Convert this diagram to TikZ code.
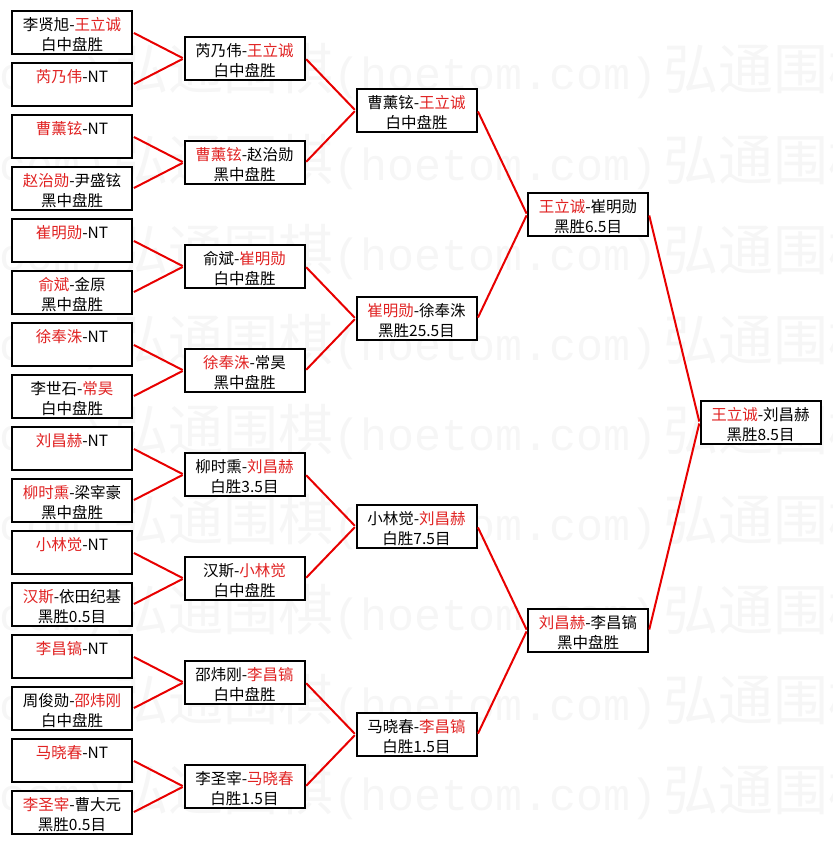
\documentclass[tikz,border=0pt]{standalone}
\usepackage{fontspec}
\setmainfont{Noto Sans CJK SC}
\newfontfamily\wmfont{Liberation Mono}

\definecolor{wintext}{RGB}{225,35,35}
\definecolor{linkred}{RGB}{232,0,0}
\definecolor{wmgray}{RGB}{246,246,246}

\newcommand{\win}[1]{\textcolor{wintext}{#1}}
\newcommand{\bout}[2]{\rule{0pt}{18.4pt}#1\\#2\rule[-2pt]{0pt}{2pt}}
\newcommand{\wmtext}{弘通围棋{\wmfont\fontsize{45}{45}\selectfont (hoetom.com)}\hspace{6pt}}

\tikzset{
  game/.style={draw=black, line width=2pt, fill=white, minimum width=120pt,
    minimum height=43pt, inner sep=0pt, align=center,
    font=\fontsize{15.5}{20}\selectfont},
  link/.style={draw=linkred, line width=2pt, shorten <=1pt, shorten >=1pt},
  wmark/.style={text=wmgray, anchor=base west, inner sep=0pt,
    font=\fontsize{55}{55}\selectfont}
}

\begin{document}
\begin{tikzpicture}[x=1pt, y=-1pt]

	\useasboundingbox (0,0) rectangle (832,845);

	% Watermark
	\begin{scope}
	\clip (0,0) rectangle (832,845);
	\node [wmark] (wm1) at (-437,90) {\wmtext\wmtext\wmtext};
	\node [wmark] (wm2) at (-437,180) {\wmtext\wmtext\wmtext};
	\node [wmark] (wm3) at (-437,270) {\wmtext\wmtext\wmtext};
	\node [wmark] (wm4) at (-437,360) {\wmtext\wmtext\wmtext};
	\node [wmark] (wm5) at (-437,450) {\wmtext\wmtext\wmtext};
	\node [wmark] (wm6) at (-437,540) {\wmtext\wmtext\wmtext};
	\node [wmark] (wm7) at (-437,630) {\wmtext\wmtext\wmtext};
	\node [wmark] (wm8) at (-437,720) {\wmtext\wmtext\wmtext};
	\node [wmark] (wm9) at (-437,810) {\wmtext\wmtext\wmtext};
	\end{scope}

	% First round
	\node [game] (a1) at (72,32.5) {\bout{李贤旭-\win{王立诚}}{白中盘胜}};
	\node [game] (a2) at (72,84.5) {\bout{\win{芮乃伟}-NT}{}};
	\node [game] (a3) at (72,136.5) {\bout{\win{曹薰铉}-NT}{}};
	\node [game] (a4) at (72,188.5) {\bout{\win{赵治勋}-尹盛铉}{黑中盘胜}};
	\node [game] (a5) at (72,240.5) {\bout{\win{崔明勋}-NT}{}};
	\node [game] (a6) at (72,292.5) {\bout{\win{俞斌}-金原}{黑中盘胜}};
	\node [game] (a7) at (72,344.5) {\bout{\win{徐奉洙}-NT}{}};
	\node [game] (a8) at (72,396.5) {\bout{李世石-\win{常昊}}{白中盘胜}};
	\node [game] (a9) at (72,448.5) {\bout{\win{刘昌赫}-NT}{}};
	\node [game] (a10) at (72,500.5) {\bout{\win{柳时熏}-梁宰豪}{黑中盘胜}};
	\node [game] (a11) at (72,552.5) {\bout{\win{小林觉}-NT}{}};
	\node [game] (a12) at (72,604.5) {\bout{\win{汉斯}-依田纪基}{黑胜0.5目}};
	\node [game] (a13) at (72,656.5) {\bout{\win{李昌镐}-NT}{}};
	\node [game] (a14) at (72,708.5) {\bout{周俊勋-\win{邵炜刚}}{白中盘胜}};
	\node [game] (a15) at (72,760.5) {\bout{\win{马晓春}-NT}{}};
	\node [game] (a16) at (72,812.5) {\bout{\win{李圣宰}-曹大元}{黑胜0.5目}};

	% Second round
	\node [game] (b1) at (244.5,58.5) {\bout{芮乃伟-\win{王立诚}}{白中盘胜}};
	\node [game] (b2) at (244.5,162.5) {\bout{\win{曹薰铉}-赵治勋}{黑中盘胜}};
	\node [game] (b3) at (244.5,266.5) {\bout{俞斌-\win{崔明勋}}{白中盘胜}};
	\node [game] (b4) at (244.5,370.5) {\bout{\win{徐奉洙}-常昊}{黑中盘胜}};
	\node [game] (b5) at (244.5,474.5) {\bout{柳时熏-\win{刘昌赫}}{白胜3.5目}};
	\node [game] (b6) at (244.5,578.5) {\bout{汉斯-\win{小林觉}}{白中盘胜}};
	\node [game] (b7) at (244.5,682.5) {\bout{邵炜刚-\win{李昌镐}}{白中盘胜}};
	\node [game] (b8) at (244.5,786.5) {\bout{李圣宰-\win{马晓春}}{白胜1.5目}};

	% Quarter finals
	\node [game] (c1) at (416.5,110.5) {\bout{曹薰铉-\win{王立诚}}{白中盘胜}};
	\node [game] (c2) at (416.5,318.5) {\bout{\win{崔明勋}-徐奉洙}{黑胜25.5目}};
	\node [game] (c3) at (416.5,526.5) {\bout{小林觉-\win{刘昌赫}}{白胜7.5目}};
	\node [game] (c4) at (416.5,734.5) {\bout{马晓春-\win{李昌镐}}{白胜1.5目}};

	% Semi finals
	\node [game] (d1) at (588,214.5) {\bout{\win{王立诚}-崔明勋}{黑胜6.5目}};
	\node [game] (d2) at (588,630.5) {\bout{\win{刘昌赫}-李昌镐}{黑中盘胜}};

	% Final
	\node [game] (e1) at (760.5,422.5) {\bout{\win{王立诚}-刘昌赫}{黑胜8.5目}};

	% Connectors
	\draw [link] (a1.east) -- (b1.west);
	\draw [link] (a2.east) -- (b1.west);
	\draw [link] (a3.east) -- (b2.west);
	\draw [link] (a4.east) -- (b2.west);
	\draw [link] (a5.east) -- (b3.west);
	\draw [link] (a6.east) -- (b3.west);
	\draw [link] (a7.east) -- (b4.west);
	\draw [link] (a8.east) -- (b4.west);
	\draw [link] (a9.east) -- (b5.west);
	\draw [link] (a10.east) -- (b5.west);
	\draw [link] (a11.east) -- (b6.west);
	\draw [link] (a12.east) -- (b6.west);
	\draw [link] (a13.east) -- (b7.west);
	\draw [link] (a14.east) -- (b7.west);
	\draw [link] (a15.east) -- (b8.west);
	\draw [link] (a16.east) -- (b8.west);

	\draw [link] (b1.east) -- (c1.west);
	\draw [link] (b2.east) -- (c1.west);
	\draw [link] (b3.east) -- (c2.west);
	\draw [link] (b4.east) -- (c2.west);
	\draw [link] (b5.east) -- (c3.west);
	\draw [link] (b6.east) -- (c3.west);
	\draw [link] (b7.east) -- (c4.west);
	\draw [link] (b8.east) -- (c4.west);

	\draw [link] (c1.east) -- (d1.west);
	\draw [link] (c2.east) -- (d1.west);
	\draw [link] (c3.east) -- (d2.west);
	\draw [link] (c4.east) -- (d2.west);

	\draw [link] (d1.east) -- (e1.west);
	\draw [link] (d2.east) -- (e1.west);

\end{tikzpicture}
\end{document}
